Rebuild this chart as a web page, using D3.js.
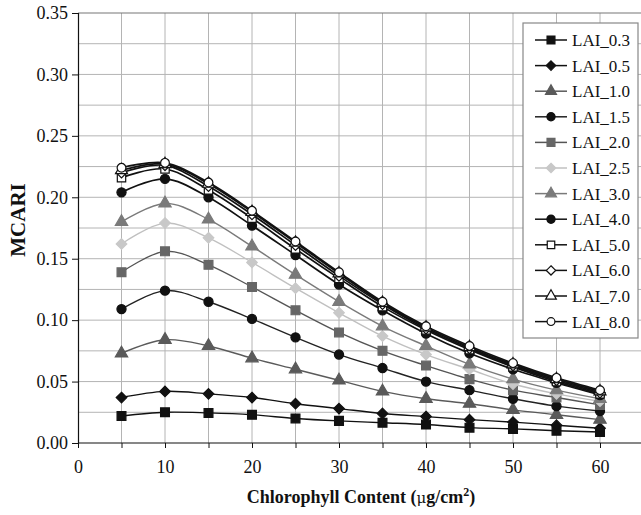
<!DOCTYPE html>
<html>
<head>
<meta charset="utf-8">
<script src="https://cdn.jsdelivr.net/npm/d3@7"></script>
<style>
  html, body { margin: 0; padding: 0; background: #fff; }
  svg { display: block; }
  text { font-family: "Liberation Serif", "Times New Roman", serif; fill: #111; }
</style>
</head>
<body>
<svg id="chart" width="641" height="515"></svg>
<script>
// ---- data ----
const chlorophyll = [5, 10, 15, 20, 25, 30, 35, 40, 45, 50, 55, 60];
const seriesNames = ["LAI_0.3", "LAI_0.5", "LAI_1.0", "LAI_1.5", "LAI_2.0", "LAI_2.5",
                     "LAI_3.0", "LAI_4.0", "LAI_5.0", "LAI_6.0", "LAI_7.0", "LAI_8.0"];
const lai03 = [0.022, 0.025, 0.0245, 0.023, 0.020, 0.018, 0.0165, 0.015, 0.0125, 0.0115, 0.010, 0.009];
const lai05 = [0.037, 0.042, 0.040, 0.037, 0.032, 0.028, 0.024, 0.0215, 0.019, 0.017, 0.0145, 0.012];
const lai10 = [0.073, 0.084, 0.079, 0.069, 0.060, 0.051, 0.042, 0.036, 0.032, 0.027, 0.023, 0.019];
const lai15 = [0.109, 0.124, 0.115, 0.101, 0.086, 0.072, 0.061, 0.050, 0.043, 0.036, 0.030, 0.026];
const lai20 = [0.139, 0.156, 0.145, 0.127, 0.108, 0.090, 0.075, 0.063, 0.052, 0.043, 0.037, 0.031];
const lai25 = [0.162, 0.179, 0.167, 0.147, 0.126, 0.106, 0.087, 0.072, 0.060, 0.048, 0.040, 0.034];
const lai30 = [0.180, 0.195, 0.182, 0.160, 0.137, 0.115, 0.095, 0.079, 0.064, 0.052, 0.043, 0.036];
const lai40 = [0.204, 0.215, 0.200, 0.177, 0.153, 0.129, 0.108, 0.089, 0.073, 0.060, 0.049, 0.039];
const lai50 = [0.216, 0.223, 0.206, 0.183, 0.158, 0.134, 0.111, 0.092, 0.076, 0.062, 0.050, 0.040];
const lai60 = [0.220, 0.226, 0.209, 0.186, 0.161, 0.136, 0.113, 0.093, 0.077, 0.063, 0.051, 0.041];
const lai70 = [0.222, 0.227, 0.211, 0.188, 0.163, 0.138, 0.114, 0.094, 0.078, 0.064, 0.052, 0.042];
const lai80 = [0.224, 0.228, 0.212, 0.189, 0.164, 0.139, 0.115, 0.095, 0.079, 0.065, 0.053, 0.043];
const seriesValues = [lai03, lai05, lai10, lai15, lai20, lai25, lai30, lai40, lai50, lai60, lai70, lai80];
const yTickLabels = ["0.00", "0.05", "0.10", "0.15", "0.20", "0.25", "0.30", "0.35"];
const xTickLabels = ["0", "10", "20", "30", "40", "50", "60"];

// square diamond (equal diagonals)
const symbolDiamondSq = {
  draw(ctx, size) {
    const r = Math.sqrt(size / 2);
    ctx.moveTo(0, -r); ctx.lineTo(r, 0); ctx.lineTo(0, r); ctx.lineTo(-r, 0); ctx.closePath();
  }
};

// ---- styles ----
const styles = [
  { sym: d3.symbolSquare,   size: 78, fill: "#111",   stroke: "#111", line: "#111" },
  { sym: symbolDiamondSq,   size: 56, fill: "#111",   stroke: "#111", line: "#111" },
  { sym: d3.symbolTriangle, size: 66, fill: "#5a5a5a", stroke: "#5a5a5a", line: "#5a5a5a" },
  { sym: d3.symbolCircle,   size: 66, fill: "#111",   stroke: "#111", line: "#222" },
  { sym: d3.symbolSquare,   size: 78, fill: "#666",   stroke: "#666", line: "#555" },
  { sym: symbolDiamondSq,   size: 56, fill: "#c8c8c8", stroke: "#c8c8c8", line: "#c0c0c0" },
  { sym: d3.symbolTriangle, size: 66, fill: "#7a7a7a", stroke: "#7a7a7a", line: "#7a7a7a" },
  { sym: d3.symbolCircle,   size: 66, fill: "#111",   stroke: "#111", line: "#111" },
  { sym: d3.symbolSquare,   size: 70, fill: "#fff",   stroke: "#111", line: "#111" },
  { sym: symbolDiamondSq,   size: 54, fill: "#fff",   stroke: "#111", line: "#111" },
  { sym: d3.symbolTriangle, size: 62, fill: "#fff",   stroke: "#111", line: "#111" },
  { sym: d3.symbolCircle,   size: 60, fill: "#fff",   stroke: "#111", line: "#111" }
];

const svg = d3.select("#chart");
svg.append("rect").attr("width", 641).attr("height", 515).attr("fill", "#fff");

const x = d3.scaleLinear().domain([0, 70]).range([78, 687]);
const y = d3.scaleLinear().domain([0, 0.35]).range([443, 13]);

// grid
const grid = svg.append("g");
d3.range(5, 70, 5).forEach(v => {
  grid.append("line").attr("x1", x(v)).attr("x2", x(v)).attr("y1", y(0)).attr("y2", y(0.35))
    .attr("stroke", "#b4b4b4").attr("stroke-width", 1);
});
d3.range(0.025, 0.35, 0.025).forEach(v => {
  grid.append("line").attr("x1", x(0)).attr("x2", 641).attr("y1", y(v)).attr("y2", y(v))
    .attr("stroke", "#b4b4b4").attr("stroke-width", 1);
});
grid.append("line").attr("x1", x(0)).attr("x2", 641).attr("y1", y(0.35)).attr("y2", y(0.35))
  .attr("stroke", "#777").attr("stroke-width", 1.2);

// axes
const yAxis = d3.axisLeft(y).tickValues(yTickLabels.map(Number)).tickFormat((d, i) => yTickLabels[i])
  .tickSize(6).tickPadding(4);
const gy = svg.append("g").attr("transform", `translate(${x(0)},0)`).call(yAxis);
gy.select(".domain").attr("stroke", "#111").attr("stroke-width", 1.2);
gy.selectAll(".tick line").attr("stroke", "#111");
gy.selectAll("text").attr("font-size", 18).attr("font-family", "Liberation Serif").attr("fill", "#111");

const xAxisTicks = d3.axisBottom(x).tickValues(d3.range(0, 70, 5)).tickFormat("").tickSize(5);
const gx = svg.append("g").attr("transform", `translate(0,${y(0)})`).call(xAxisTicks);
gx.select(".domain").remove();
gx.selectAll(".tick line").attr("stroke", "#111");
svg.append("line").attr("x1", x(0)).attr("x2", 641).attr("y1", y(0)).attr("y2", y(0))
  .attr("stroke", "#111").attr("stroke-width", 1.2);
const xLabAxis = d3.axisBottom(x).tickValues(xTickLabels.map(Number)).tickFormat((d, i) => xTickLabels[i])
  .tickSize(0).tickPadding(17);
const gx2 = svg.append("g").attr("transform", `translate(0,${y(0)})`).call(xLabAxis);
gx2.select(".domain").remove();
gx2.selectAll("text").attr("font-size", 18).attr("font-family", "Liberation Serif").attr("fill", "#111");

// titles
svg.append("text").attr("x", 361).attr("y", 503).attr("text-anchor", "middle")
  .attr("font-size", 18).attr("font-weight", "bold")
  .html('Chlorophyll Content (<tspan font-family="DejaVu Serif" font-size="15" font-weight="normal">\u03bc</tspan>g/cm<tspan dy="-7" font-size="12">2</tspan><tspan dy="7">)</tspan>');
svg.append("text").attr("transform", "translate(25,220) rotate(-90)").attr("text-anchor", "middle")
  .attr("font-size", 21).attr("font-weight", "bold").text("MCARI");

// series
const line = d3.line().x(d => x(d[0])).y(d => y(d[1])).curve(d3.curveCatmullRom.alpha(0));
seriesValues.forEach((vals, i) => {
  const st = styles[i];
  const pts = chlorophyll.map((c, j) => [c, vals[j]]);
  const g = svg.append("g");
  g.append("path").attr("d", line(pts)).attr("fill", "none")
    .attr("stroke", st.line).attr("stroke-width", i >= 7 ? 1.7 : 1.4);
  g.selectAll("path.m").data(pts).enter().append("path").attr("class", "m")
    .attr("transform", d => `translate(${x(d[0])},${y(d[1])})`)
    .attr("d", d3.symbol().type(st.sym).size(st.size))
    .attr("fill", st.fill).attr("stroke", st.stroke).attr("stroke-width", 1.2);
});

// legend
const lg = svg.append("g");
lg.append("rect").attr("x", 523).attr("y", 23).attr("width", 115).attr("height", 315)
  .attr("fill", "#fff").attr("stroke", "#888").attr("stroke-width", 1.2);
seriesNames.forEach((name, i) => {
  const st = styles[i];
  const ry = 40 + i * 25.6;
  lg.append("line").attr("x1", 535).attr("x2", 567).attr("y1", ry).attr("y2", ry)
    .attr("stroke", st.line).attr("stroke-width", 1.5);
  lg.append("path").attr("transform", `translate(551,${ry})`)
    .attr("d", d3.symbol().type(st.sym).size(st.size * 0.8))
    .attr("fill", st.fill).attr("stroke", st.stroke).attr("stroke-width", 1.2);
  lg.append("text").attr("x", 572).attr("y", ry + 6).attr("font-size", 17).text(name);
});
</script>
</body>
</html>
